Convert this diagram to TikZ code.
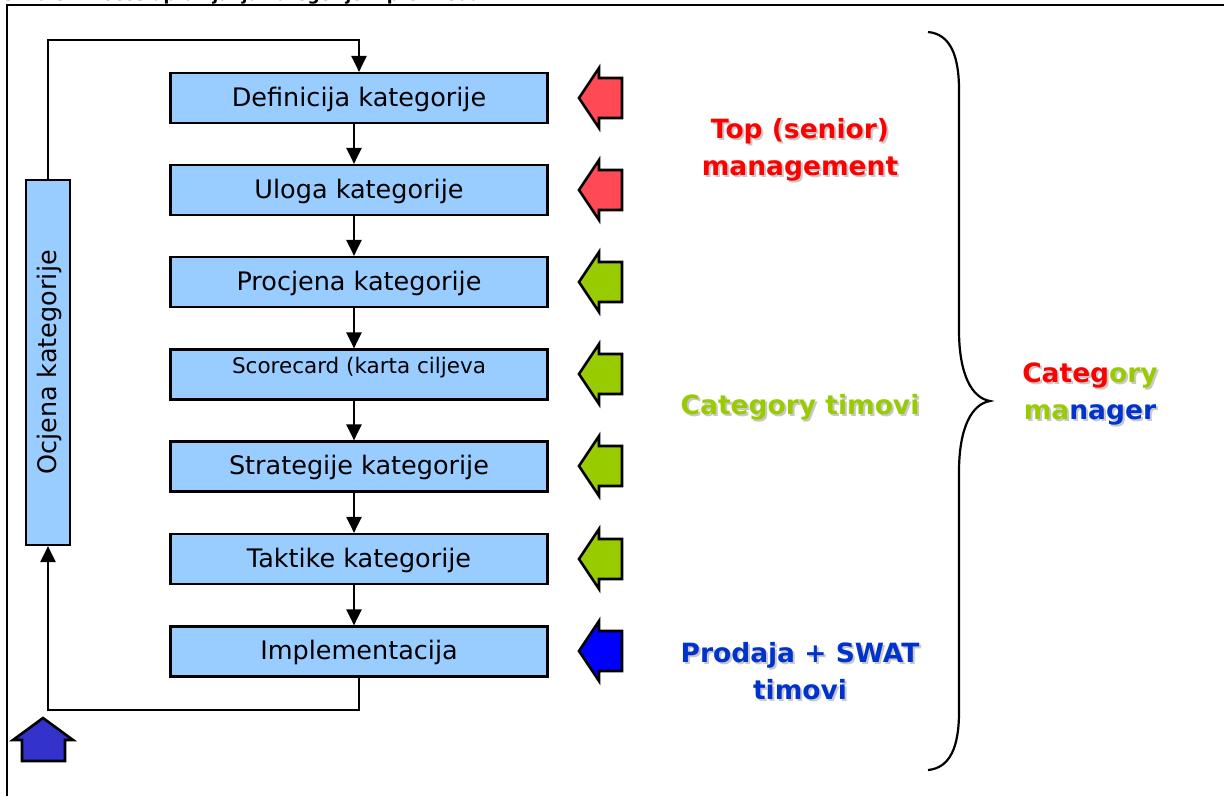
\documentclass[tikz,border=0pt]{standalone}
\usepackage{fontspec}
\setmainfont{DejaVu Sans}
\usetikzlibrary{arrows.meta}
\definecolor{boxblue}{HTML}{99CCFF}
\definecolor{arrred}{HTML}{FF4A55}
\definecolor{arrgreen}{HTML}{99CC00}
\definecolor{arrblue}{HTML}{0000FF}
\definecolor{upblue}{HTML}{3333CC}
\definecolor{txtred}{HTML}{FF0000}
\definecolor{txtgreen}{HTML}{99CC00}
\definecolor{txtblue}{HTML}{0033CC}
\definecolor{shadowgray}{HTML}{C8C8C8}
\begin{document}
\begin{tikzpicture}[x=1pt,y=-1pt,
  stepbox/.style={draw=black, line width=2.2pt, fill=boxblue, minimum width=377pt, minimum height=50pt, inner sep=0pt, text height=19pt, text depth=3pt, font=\fontsize{25.5}{30}\selectfont},
  flow/.style={line width=2.2pt, -{Triangle[width=15pt,length=16pt]}},
  lbltext/.style={font=\bfseries\fontsize{26.5}{36.5}\selectfont, align=center},
  shadowtext/.style={lbltext, text=shadowgray},
  blockarrow/.style={draw=black, line width=2.6pt, line join=miter}
]
\path[use as bounding box] (0,0) rectangle (1224,796);
\clip (0,0) rectangle (1224,796);

% title (cut off) and frame
\node[anchor=base west, font=\bfseries\fontsize{17}{20}\selectfont, inner sep=0pt] (title) at (2,0.5) {Slika 5: Proces upravljanja kategorijom proizvoda};
\draw[line width=2.2pt] (1224,5) -- (7,5) -- (7,796);

% process boxes
\node[stepbox] (b1) at (359,98) {Definicija kategorije};
\node[stepbox] (b2) at (359,190) {Uloga kategorije};
\node[stepbox] (b3) at (359,282) {Procjena kategorije};
\node[stepbox] (b4) at (359,374.5) {};
\node[font=\fontsize{21.5}{25}\selectfont, inner sep=0pt, anchor=base] (b4t) at (359,373) {Scorecard (karta ciljeva};
\node[stepbox] (b5) at (359,466.5) {Strategije kategorije};
\node[stepbox] (b6) at (359,559) {Taktike kategorije};
\node[stepbox] (b7) at (359,651.5) {Implementacija};

\node[stepbox, rotate=90, minimum width=365pt, minimum height=44pt] (oc) at (48,362.5) {Ocjena kategorije};

\foreach \i/\j in {1/2,2/3,3/4,4/5,5/6,6/7}
  \draw[flow] ([xshift=-5pt]b\i.south) -- ([xshift=-5pt]b\j.north);

\coordinate (fbbot) at (48,710);
\coordinate (fbtop) at (48,40);
\draw[flow] (b7.south) |- (fbbot) -- (oc.west);
\draw[flow] (oc.east) -- (fbtop) -| (b1.north);

% block arrows
\foreach \cy/\col in {98/arrred,190/arrred,282/arrgreen,374/arrgreen,466/arrgreen,559/arrgreen,651/arrblue}
  \draw[blockarrow, fill=\col] (579,\cy) -- (599,\cy-30) -- (599,\cy-20) -- (622,\cy-20) -- (622,\cy+20) -- (599,\cy+20) -- (599,\cy+30) -- cycle;

\draw[blockarrow, fill=upblue] (43,718) -- (73,740) -- (65,740) -- (65,761) -- (22,761) -- (22,740) -- (13,740) -- cycle;

% labels
\node[shadowtext] (t1s) at (802,152) {Top (senior)\\management};
\node[lbltext, text=txtred] (t1) at (800,150) {Top (senior)\\management};
\node[shadowtext] (t2s) at (802,409) {Category timovi};
\node[lbltext, text=txtgreen] (t2) at (800,407) {Category timovi};
\node[shadowtext] (t3s) at (802,673) {Prodaja + SWAT\\timovi};
\node[lbltext, text=txtblue] (t3) at (800,671) {Prodaja + SWAT\\timovi};
\node[shadowtext] (cms) at (1092,396) {Category\\manager};
\node[lbltext] (cm) at (1090,394) {\textcolor{txtred}{Categ}\textcolor{txtgreen}{ory}\\\textcolor{txtgreen}{ma}\textcolor{txtblue}{nager}};

% brace
\draw[line width=2.2pt] (928,32) .. controls (950,34) and (959,55) .. (959,90) -- (959,330)
  .. controls (959,375) and (972,398) .. (990,401)
  .. controls (972,404) and (959,427) .. (959,472) -- (959,712)
  .. controls (959,747) and (950,768) .. (928,770);
\end{tikzpicture}
\end{document}
